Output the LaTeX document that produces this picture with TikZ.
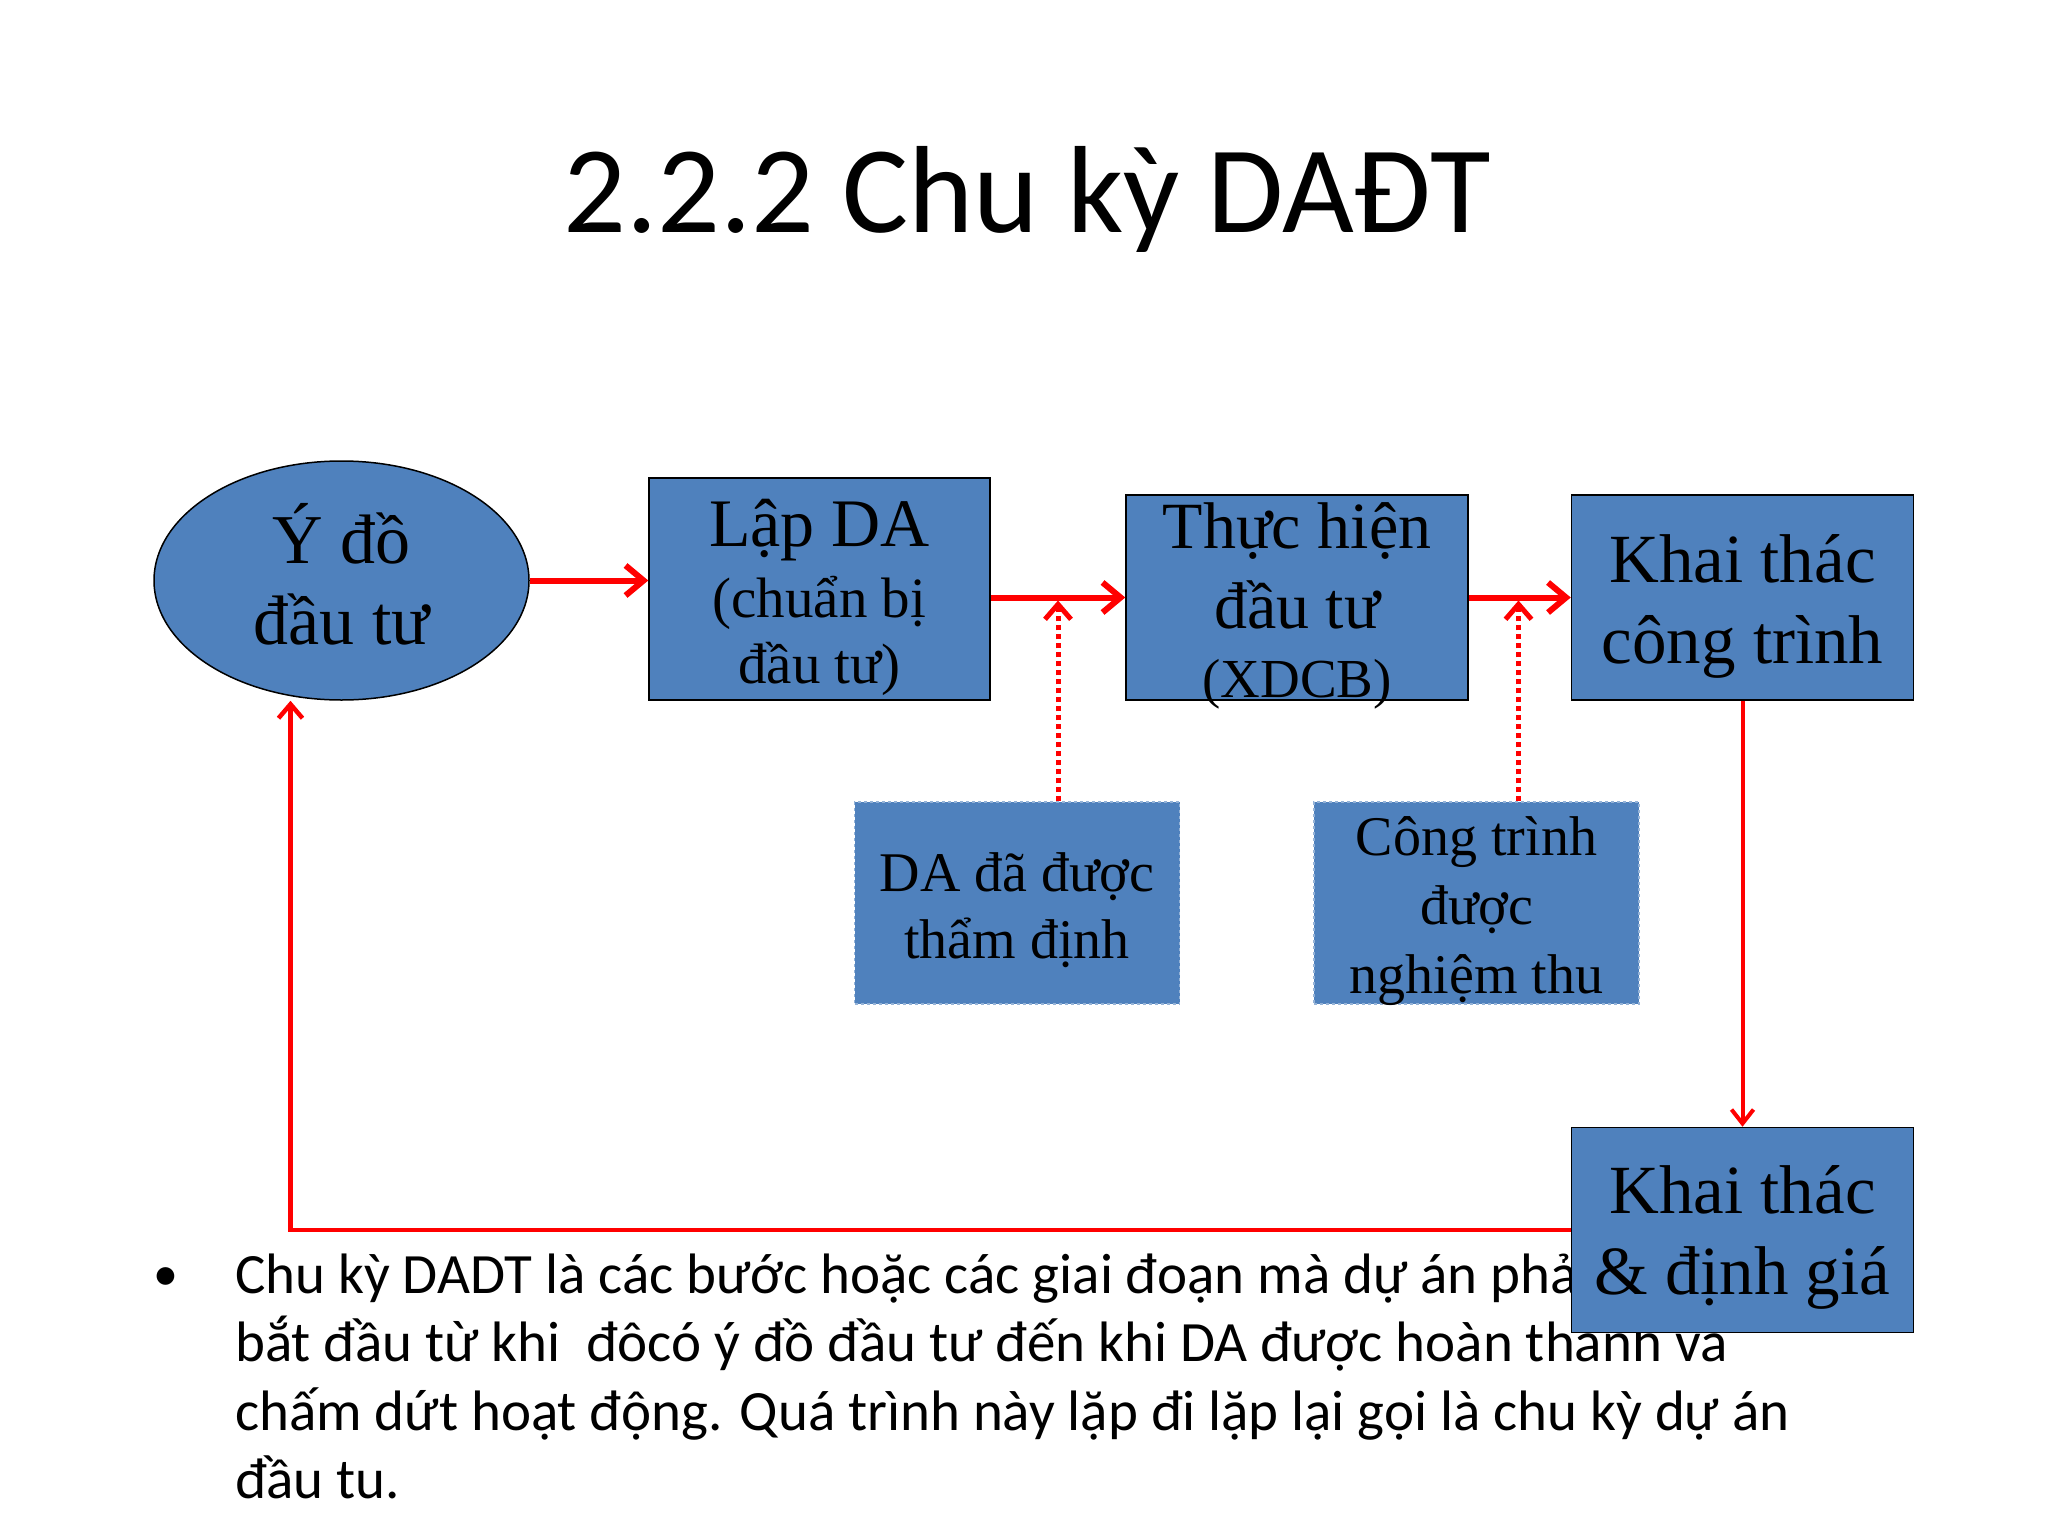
\documentclass[tikz,border=0pt]{standalone}
\usepackage{fontspec}
\setmainfont{Liberation Serif}
\newfontfamily\calibri{Carlito}
\usetikzlibrary{shapes.geometric, arrows.meta, positioning}

\definecolor{boxblue}{HTML}{4F81BD}
\definecolor{edgeblue}{HTML}{95B3D7}
\definecolor{linered}{HTML}{FF0000}

% dong dau / dong cuoi co chieu cao co dinh
\newcommand{\firstline}[2]{\raisebox{0pt}[#1pt][0pt]{#2}}
\newcommand{\lastline}[2]{\raisebox{0pt}[0pt][#1pt]{#2}}

\tikzset{
  stage/.style={rectangle, draw=black, line width=1.5pt, fill=boxblue, align=center, inner sep=0pt, minimum width=342pt, minimum height=205pt, font=\fontsize{69}{81}\selectfont},
  result/.style={rectangle, draw=edgeblue, dashed, line width=1.5pt, fill=boxblue, align=center, inner sep=0pt, minimum width=325pt, minimum height=202pt, font=\fontsize{56}{67}\selectfont},
  flow/.style={draw=linered, line width=6pt, -{Straight Barb[length=18pt,width=30pt]}},
  check/.style={draw=linered, line width=5pt, dash pattern=on 5pt off 4pt, -{Straight Barb[length=15pt,width=26pt]}},
  bodytext/.style={anchor=base west, inner sep=0pt, font=\calibri\fontsize{57}{68}\selectfont},
}

\begin{document}
\begin{tikzpicture}[x=1pt, y=-1pt]
  \useasboundingbox (0,0) rectangle (2048,1536);

  % Tieu de
  \node (title) [anchor=base, inner sep=0pt, font=\calibri\fontsize{124}{140}\selectfont] at (1027,232) {2.2.2 Chu kỳ DAĐT};

  % Cac giai doan (hinh chu nhat & ellipse)
  \node (idea) [ellipse, draw=black, line width=1.5pt, fill=boxblue, minimum width=375pt, minimum height=239pt, inner sep=0pt, align=center, font=\fontsize{70}{81}\selectfont] at (341.5,580.5) {\firstline{66}{Ý đồ}\\\lastline{20}{đầu tư}};

  \node (lapda) [stage, minimum width=341pt, minimum height=222pt, font=\fontsize{57}{66}\selectfont] at (819.5,589) {\firstline{67}{\fontsize{68}{80}\selectfont Lập DA}\\[5pt](chuẩn bị\\\lastline{16}{đầu tư)}};

  \node (thuc) [stage, font=\fontsize{66}{69}\selectfont] at (1297,597.5) {\firstline{52}{Thực hiện}\\[11pt]đầu tư\\\lastline{2}{\fontsize{55}{60}\selectfont (XDCB)}};

  \node (khai) [stage, right=102pt of thuc] {\firstline{70}{Khai thác}\\\lastline{20}{công trình}};

  \node (thamdinh) [result] at (1017,903) {\firstline{63}{DA đã được}\\\lastline{20}{thẩm định}};

  \node (nghiemthu) [result, font=\fontsize{56}{69}\selectfont, right=133pt of thamdinh] {\firstline{52}{Công trình}\\được\\\lastline{10}{nghiệm thu}};

  % Doan van ban
  \node (dot) [bodytext, font=\calibri\fontsize{50}{60}\selectfont] at (153,1290) {•};
  \node (line1) [bodytext] at (235,1293) {Chu kỳ DADT là các bước hoặc các giai đoạn mà dự án phải};
  \node (line2) [bodytext] at (235,1361.6) {bắt đầu từ khi\ \ đôcó ý đồ đầu tư đến khi DA được hoàn thành và};
  \node (line3) [bodytext] at (235,1430.2) {chấm dứt hoạt động. Quá trình này lặp đi lặp lại gọi là chu kỳ dự án};
  \node (line4) [bodytext] at (235,1498.8) {đầu tu.};

  \node (khai2) [stage, below=426pt of khai] {\firstline{68}{Khai thác}\\\lastline{20}{\& định giá}};

  % Mui ten
  \draw [flow] (idea.east) -- (idea.east -| lapda.west);
  \draw [flow] (thuc.west -| lapda.east) -- (thuc.west);
  \draw [flow] (thuc.east) -- (khai.west);
  \draw [flow, line width=4pt, -{Straight Barb[length=14pt,width=22pt]}] (khai.south) -- (khai2.north);
  \draw [flow, line width=4.5pt, -{Straight Barb[length=14pt,width=24pt]}] (khai2.west) -| ([xshift=-51pt]idea.south);

  % Mui ten cham (ket qua)
  \draw [check] ([xshift=41pt]thamdinh.north) -- ([xshift=41pt, yshift=-3pt]thamdinh.north |- thuc.west);
  \draw [check] ([xshift=42pt]nghiemthu.north) -- ([xshift=42pt, yshift=-3pt]nghiemthu.north |- thuc.west);
\end{tikzpicture}
\end{document}
